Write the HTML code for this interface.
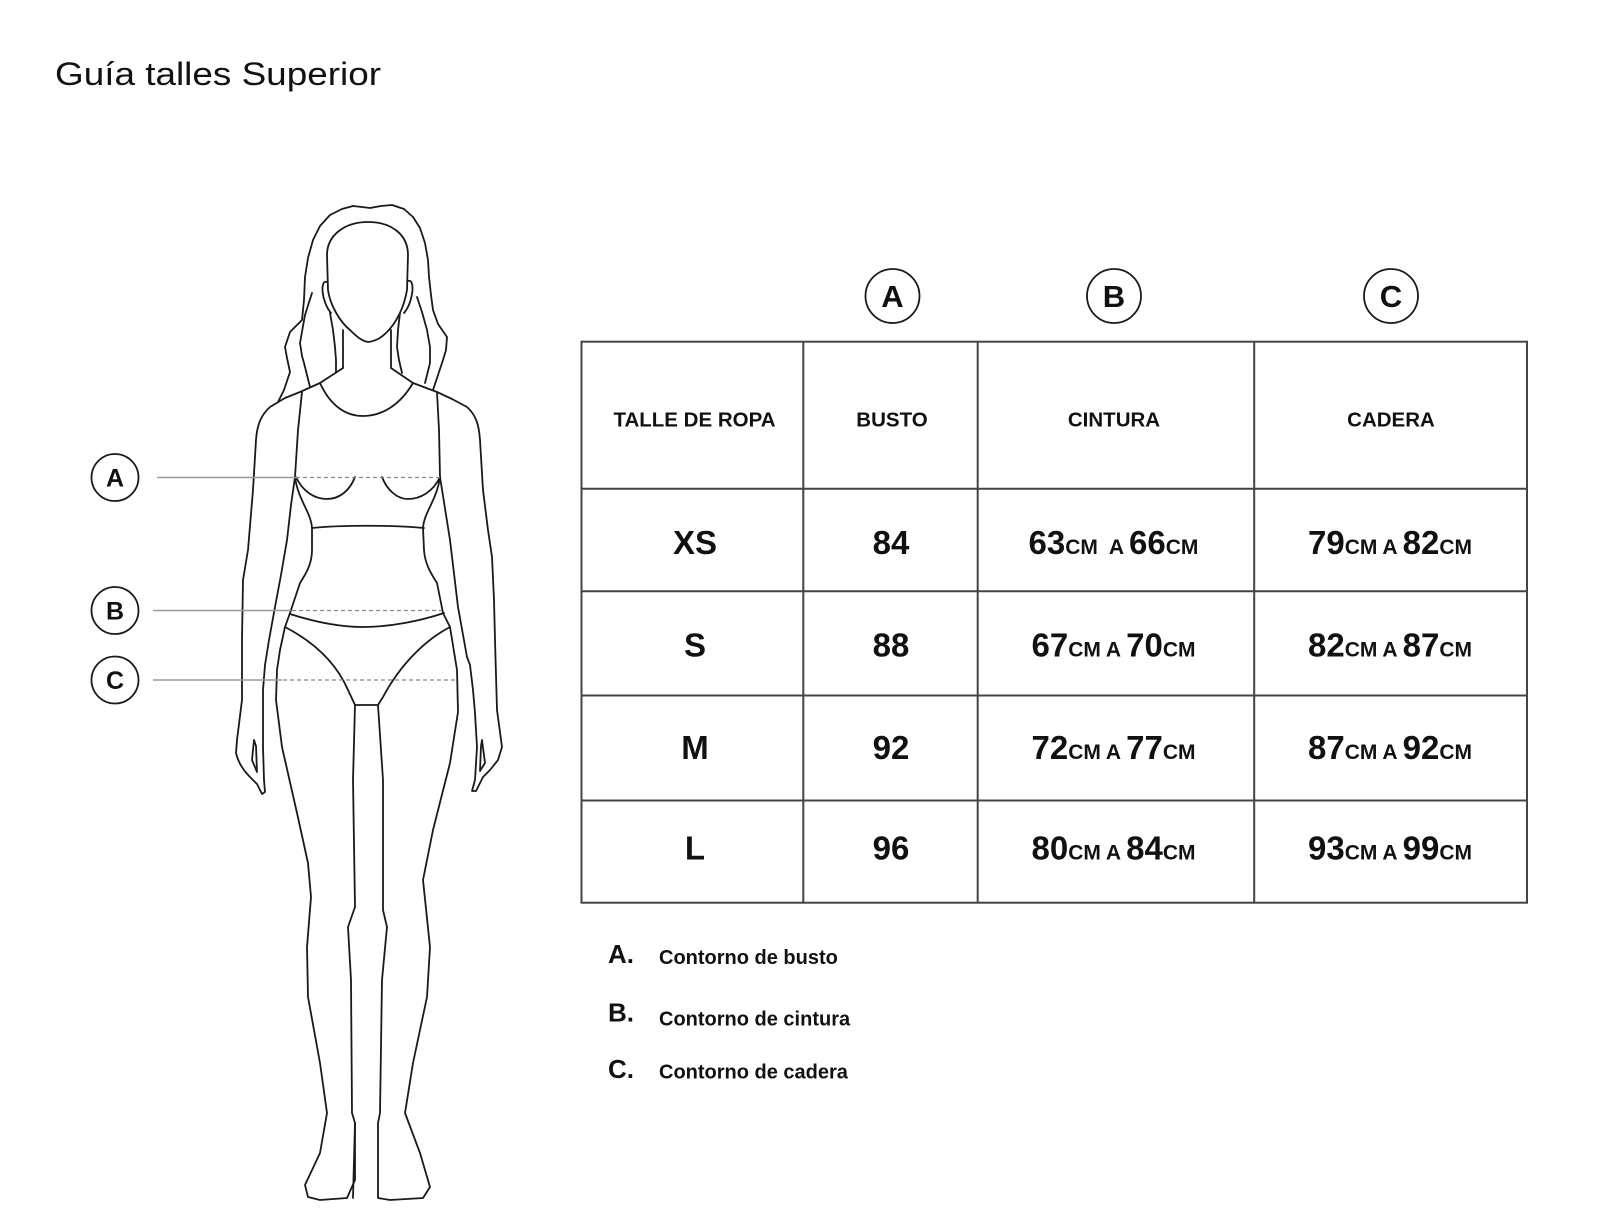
<!DOCTYPE html>
<html>
<head>
<meta charset="utf-8">
<style>
  html,body{margin:0;padding:0;background:#fff;}
  body{width:1600px;height:1230px;overflow:hidden;}
  svg{display:block;}
  .t{font-family:"Liberation Sans",Arial,sans-serif;fill:#111;}
  .b{font-weight:bold;}
  .fig{fill:none;stroke:#1a1a1a;stroke-width:1.8;stroke-linejoin:round;stroke-linecap:round;}
  .dash{fill:none;stroke:#8a8a8a;stroke-width:1.3;stroke-dasharray:4 3;}
  .lead{fill:none;stroke:#9a9a9a;stroke-width:1.4;}
  .grid{fill:none;stroke:#444;stroke-width:2;}
</style>
</head>
<body>
<svg width="1600" height="1230" viewBox="0 0 1600 1230" xmlns="http://www.w3.org/2000/svg">
  <rect x="0" y="0" width="1600" height="1230" fill="#fff"/>

  <!-- Title -->
  <text class="t" x="55" y="85" font-size="32" textLength="326" lengthAdjust="spacingAndGlyphs">Guía talles Superior</text>

  <!-- ================= FIGURE ================= -->
  <!-- hair outer -->
  <path class="fig" d="M278,402 L284,390 L290,372 L287,358 L285,347 L290,332 L302,320 L304,300 L305,277 L308,258 L313,240 L320,226 L330,215 L342,209 L353,206 L362,207 L370,208 L381,206 L392,205 L404,209 L413,217 L420,228 L425,243 L428,260 L429,277 L431,295 L433,310 L438,324 L447,337 L446,350 L443,360 L438,375 L433,390"/>
  <!-- hair strands -->
  <path class="fig" d="M312,293 L305,315 L300,343 L302,356 L304,363 L307,375 L310,387"/>
  <path class="fig" d="M330,313 L333,330 L335,347 L336,360 L336,372"/>
  <path class="fig" d="M400,313 L398,330 L397,347 L399,360 L402,373"/>
  <path class="fig" d="M417,297 L422,312 L427,330 L430,347 L430,363 L425,383"/>
  <!-- face -->
  <path class="fig" d="M368,222 C345,222 327,235 327,255 L328,290 C330,305 340,322 350,330 C357,337 362,341 368,342 C376,341 381,338 387,332 C396,323 404,308 407,290 L408,255 C408,235 392,222 368,222 Z"/>
  <!-- ears -->
  <path class="fig" d="M327,282 C320,279 321,301 331,313"/>
  <path class="fig" d="M408,281 C415,278 414,301 404,313"/>
  <!-- neck -->
  <path class="fig" d="M343,330 L343,368"/>
  <path class="fig" d="M391,330 L391,368"/>
  <!-- left shoulder + outer arm + hand -->
  <path class="fig" d="M343,368 L320,383 L300,392 L285,398 L270,407 C261,415 257,425 256,440 L253,490 L248,550 L243,580 L242,640 L242,700 L237,740 L236,753 C238,762 243,770 250,777 L257,784 L262,794 L265,792 L264,780 L263,747 L263,713 L263,690 L265,665 L269,640 L275,607 L281,575 L287,540 L291,505 L295,477"/>
  <!-- left thumb -->
  <path class="fig" d="M254,740 L252,760 L257,772 L256,746 Z"/>
  <!-- right shoulder + outer arm + hand -->
  <path class="fig" d="M391,368 L413,383 L437,392 L452,399 L467,407 C476,415 479,425 480,440 L483,490 L488,530 L492,557 L494,600 L495,640 L497,710 L502,747 L498,760 L490,770 L483,777 L476,791 L472,791 L475,780 L477,747 L475,713 L473,690 L470,665 L467,657 L458,607 L450,540 L440,477"/>
  <!-- right thumb -->
  <path class="fig" d="M482,740 L485,763 L480,771 L481,746 Z"/>
  <!-- bra neckline -->
  <path class="fig" d="M320,383 C330,405 345,416 363,416 C382,416 400,405 413,383"/>
  <!-- armpit sides -->
  <path class="fig" d="M302,392 L298,430 L295,477"/>
  <path class="fig" d="M437,392 L439,430 L440,477"/>
  <!-- cups -->
  <path class="fig" d="M296,477 C303,492 315,499 327,499 C340,499 350,490 355,477"/>
  <path class="fig" d="M382,477 C387,490 397,499 408,499 C420,499 433,492 440,477"/>
  <!-- underband -->
  <path class="fig" d="M312,528 C340,525 395,525 424,528"/>
  <!-- left torso + outer leg + foot -->
  <path class="fig" d="M295,477 C298,500 311,512 312,528 L312,550 C312,565 305,575 300,583 L290,613 L285,627 L280,650 L277,670 L276,700 L282,747 L297,813 L308,863 L311,897 L307,947 L308,997 L320,1063 L327,1113 L320,1153 L305,1185 L308,1197 L320,1200 L347,1198 L355,1180 L355,1123"/>
  <!-- left inner leg -->
  <path class="fig" d="M355,705 L353,780 L355,907 L348,927 L351,980 L352,1113 L355,1123 L353,1198"/>
  <!-- right torso + outer leg + foot + inner leg -->
  <path class="fig" d="M440,477 C437,500 424,512 423,528 L424,550 C425,565 432,575 437,583 L443,613 L450,627 L457,670 L458,712 L450,763 L433,830 L423,880 L430,947 L427,997 L413,1063 L405,1113 L420,1153 L430,1187 L423,1198 L390,1200 L378,1198 L378,1123 L380,1113 L382,980 L387,927 L383,910 L383,780 L378,705"/>
  <!-- panty -->
  <path class="fig" d="M290,614 C315,622 340,627 363,627 C390,627 420,621 444,613"/>
  <path class="fig" d="M285,627 C310,640 335,660 348,690 L355,705 L378,705 L383,697 C400,665 425,640 450,627"/>

  <!-- measurement dashed lines -->
  <line class="dash" x1="303" y1="477.5" x2="440" y2="477.5"/>
  <line class="dash" x1="292" y1="610.5" x2="442" y2="610.5"/>
  <line class="dash" x1="283" y1="680" x2="455" y2="680"/>
  <!-- leader lines -->
  <line class="lead" x1="157" y1="477.5" x2="300" y2="477.5"/>
  <line class="lead" x1="153" y1="610.5" x2="291" y2="610.5"/>
  <line class="lead" x1="153" y1="680" x2="282" y2="680"/>

  <!-- left circles -->
  <circle cx="115" cy="477.5" r="23.5" fill="#fff" stroke="#1a1a1a" stroke-width="1.8"/>
  <circle cx="115" cy="610.5" r="23.5" fill="#fff" stroke="#1a1a1a" stroke-width="1.8"/>
  <circle cx="115" cy="680" r="23.5" fill="#fff" stroke="#1a1a1a" stroke-width="1.8"/>
  <text class="t b" x="115" y="486.5" font-size="25" text-anchor="middle">A</text>
  <text class="t b" x="115" y="619.5" font-size="25" text-anchor="middle">B</text>
  <text class="t b" x="115" y="689" font-size="25" text-anchor="middle">C</text>

  <!-- ================= TABLE ================= -->
  <!-- header circles -->
  <ellipse cx="892.5" cy="296" rx="27" ry="27" fill="#fff" stroke="#1a1a1a" stroke-width="1.8"/>
  <ellipse cx="1114" cy="296" rx="27" ry="27" fill="#fff" stroke="#1a1a1a" stroke-width="1.8"/>
  <ellipse cx="1391" cy="296" rx="27" ry="27" fill="#fff" stroke="#1a1a1a" stroke-width="1.8"/>
  <text class="t b" x="892.5" y="307" font-size="31" text-anchor="middle">A</text>
  <text class="t b" x="1114" y="307" font-size="31" text-anchor="middle">B</text>
  <text class="t b" x="1391" y="307" font-size="31" text-anchor="middle">C</text>

  <!-- grid -->
  <rect class="grid" x="581.5" y="341.7" width="945.5" height="561" />
  <line class="grid" x1="803.3" y1="341.7" x2="803.3" y2="902.7"/>
  <line class="grid" x1="977.7" y1="341.7" x2="977.7" y2="902.7"/>
  <line class="grid" x1="1254.2" y1="341.7" x2="1254.2" y2="902.7"/>
  <line class="grid" x1="581.5" y1="488.8" x2="1527" y2="488.8"/>
  <line class="grid" x1="581.5" y1="591.3" x2="1527" y2="591.3"/>
  <line class="grid" x1="581.5" y1="695.5" x2="1527" y2="695.5"/>
  <line class="grid" x1="581.5" y1="800.5" x2="1527" y2="800.5"/>

  <!-- header text -->
  <text class="t b" x="694.5" y="426.5" font-size="20.5" text-anchor="middle">TALLE DE ROPA</text>
  <text class="t b" x="892" y="426.5" font-size="20.5" text-anchor="middle">BUSTO</text>
  <text class="t b" x="1114" y="426.5" font-size="20.5" text-anchor="middle">CINTURA</text>
  <text class="t b" x="1391" y="426.5" font-size="20.5" text-anchor="middle">CADERA</text>

  <!-- size column -->
  <text class="t b" x="695" y="554" font-size="33" text-anchor="middle">XS</text>
  <text class="t b" x="695" y="656.5" font-size="33" text-anchor="middle">S</text>
  <text class="t b" x="695" y="759" font-size="33" text-anchor="middle">M</text>
  <text class="t b" x="695" y="859.5" font-size="33" text-anchor="middle">L</text>

  <!-- busto -->
  <text class="t b" x="891" y="554" font-size="33" text-anchor="middle">84</text>
  <text class="t b" x="891" y="656.5" font-size="33" text-anchor="middle">88</text>
  <text class="t b" x="891" y="759" font-size="33" text-anchor="middle">92</text>
  <text class="t b" x="891" y="859.5" font-size="33" text-anchor="middle">96</text>

  <!-- cintura -->
  <text class="t b" x="1113.5" y="554" text-anchor="middle" style="white-space:pre"><tspan font-size="33">63</tspan><tspan font-size="21">CM  A </tspan><tspan font-size="33">66</tspan><tspan font-size="21">CM</tspan></text>
  <text class="t b" x="1113.5" y="656.5" text-anchor="middle" style="white-space:pre"><tspan font-size="33">67</tspan><tspan font-size="21">CM A </tspan><tspan font-size="33">70</tspan><tspan font-size="21">CM</tspan></text>
  <text class="t b" x="1113.5" y="759" text-anchor="middle" style="white-space:pre"><tspan font-size="33">72</tspan><tspan font-size="21">CM A </tspan><tspan font-size="33">77</tspan><tspan font-size="21">CM</tspan></text>
  <text class="t b" x="1113.5" y="859.5" text-anchor="middle" style="white-space:pre"><tspan font-size="33">80</tspan><tspan font-size="21">CM A </tspan><tspan font-size="33">84</tspan><tspan font-size="21">CM</tspan></text>

  <!-- cadera -->
  <text class="t b" x="1390" y="554" text-anchor="middle" style="white-space:pre"><tspan font-size="33">79</tspan><tspan font-size="21">CM A </tspan><tspan font-size="33">82</tspan><tspan font-size="21">CM</tspan></text>
  <text class="t b" x="1390" y="656.5" text-anchor="middle" style="white-space:pre"><tspan font-size="33">82</tspan><tspan font-size="21">CM A </tspan><tspan font-size="33">87</tspan><tspan font-size="21">CM</tspan></text>
  <text class="t b" x="1390" y="759" text-anchor="middle" style="white-space:pre"><tspan font-size="33">87</tspan><tspan font-size="21">CM A </tspan><tspan font-size="33">92</tspan><tspan font-size="21">CM</tspan></text>
  <text class="t b" x="1390" y="859.5" text-anchor="middle" style="white-space:pre"><tspan font-size="33">93</tspan><tspan font-size="21">CM A </tspan><tspan font-size="33">99</tspan><tspan font-size="21">CM</tspan></text>

  <!-- legend -->
  <text class="t b" x="608" y="963" font-size="26">A.</text>
  <text class="t b" x="659" y="964" font-size="20">Contorno de busto</text>
  <text class="t b" x="608" y="1021.5" font-size="26">B.</text>
  <text class="t b" x="659" y="1025.5" font-size="20">Contorno de cintura</text>
  <text class="t b" x="608" y="1078" font-size="26">C.</text>
  <text class="t b" x="659" y="1078.5" font-size="20">Contorno de cadera</text>
</svg>
</body>
</html>
